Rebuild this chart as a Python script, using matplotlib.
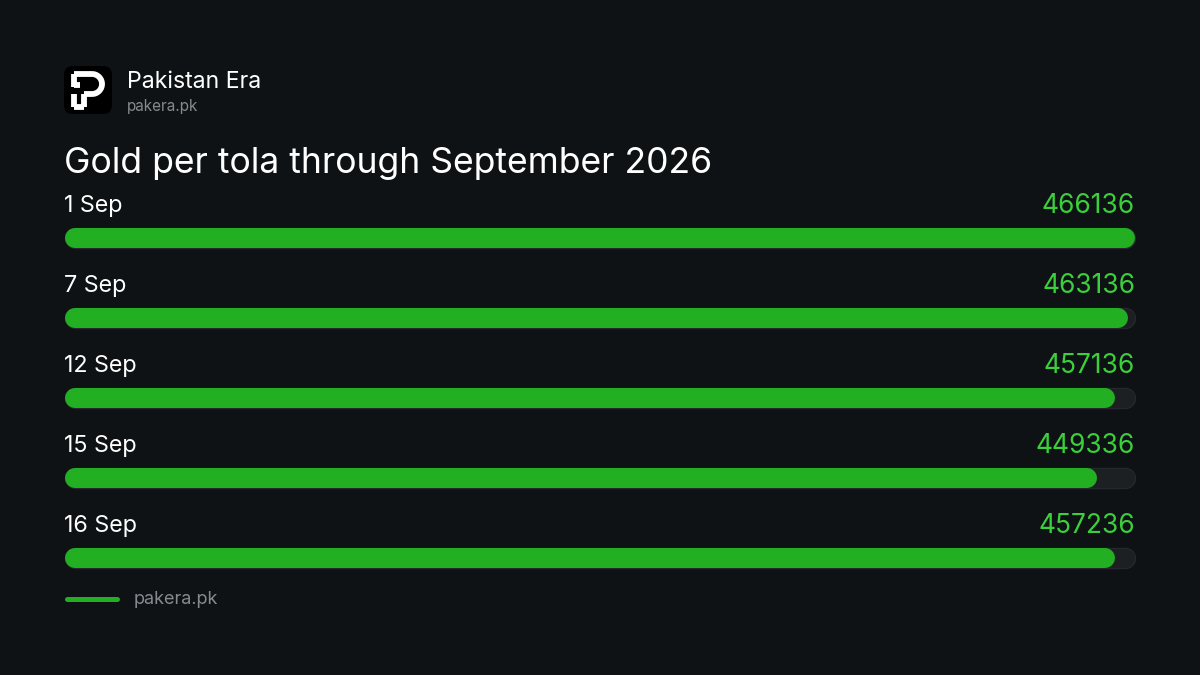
import matplotlib.pyplot as plt
from matplotlib.patches import FancyBboxPatch, Arc

plt.rcParams['font.family'] = ['Inter', 'DejaVu Sans']

dates = ["1 Sep", "7 Sep", "12 Sep", "15 Sep", "16 Sep"]
prices = [466136, 463136, 457136, 449336, 457236]

bg = "#0f1214"
green = "#22b022"
green_txt = "#3ccf3c"
track = "#1c2023"
gray = "#858a8e"

fig = plt.figure(figsize=(12, 6.75), dpi=100, facecolor=bg)

# overlay in pixel coords for text and decorations
tx = fig.add_axes([0, 0, 1, 1])
tx.set_xlim(0, 1200)
tx.set_ylim(675, 0)
tx.axis("off")
tx.set_facecolor(bg)

# logo
tx.add_patch(FancyBboxPatch((64, 66), 48, 48, boxstyle="round,pad=0,rounding_size=9",
                            fc="#000000", ec="none"))
w = 4.2
tx.plot([74, 92], [74, 74], color="white", lw=w, solid_capstyle="butt")
tx.add_patch(Arc((92, 84), 20, 20, theta1=-90, theta2=90, color="white", lw=w))
tx.plot([92, 84], [94, 94], color="white", lw=w, solid_capstyle="butt")
tx.plot([84, 84], [94, 107], color="white", lw=w, solid_capstyle="butt")
tx.plot([84, 74], [107, 107], color="white", lw=w, solid_capstyle="butt")
tx.plot([74, 74], [107, 94], color="white", lw=w, solid_capstyle="butt")
tx.plot([74, 74], [74, 87], color="white", lw=w, solid_capstyle="butt")
tx.plot([74, 80], [85, 85], color="white", lw=w, solid_capstyle="butt")

tx.text(127, 82, "Pakistan Era", color="white", fontsize=16.6, va="center", ha="left")
tx.text(127, 106, "pakera.pk", color=gray, fontsize=11, va="center", ha="left")

tx.text(64, 163, "Gold per tola through September 2026", color="white",
        fontsize=25.6, va="center", ha="left")

# bars
ax = fig.add_axes([75 / 1200, 0, 1050 / 1200, 1])
ax.set_xlim(0, max(prices))
ax.set_ylim(675, 0)
ax.axis("off")

row0 = 238
step = 80
lw_pt = 20 * 72 / 100
for i, (d, p) in enumerate(zip(dates, prices)):
    y = row0 + i * step
    ax.plot([0, max(prices)], [y, y], color="#262a2e", lw=lw_pt + 1, solid_capstyle="round",
            zorder=0, clip_on=False)
    ax.plot([0, max(prices)], [y, y], color=track, lw=lw_pt - 0.5, solid_capstyle="round",
            zorder=1, clip_on=False)
    ax.plot([0, p], [y, y], color=green, lw=lw_pt, solid_capstyle="round", zorder=2,
            clip_on=False)
    tx.text(64, y - 32, d, color="white", fontsize=16.8, va="center", ha="left")
    tx.text(1135, y - 32, str(p), color=green_txt, fontsize=19, va="center", ha="right")

# footer
tx.plot([67, 117], [599, 599], color=green, lw=3.6, solid_capstyle="round")
tx.text(134, 600, "pakera.pk", color=gray, fontsize=13, va="center", ha="left")

fig.savefig("out.png", dpi=100, facecolor=bg)
